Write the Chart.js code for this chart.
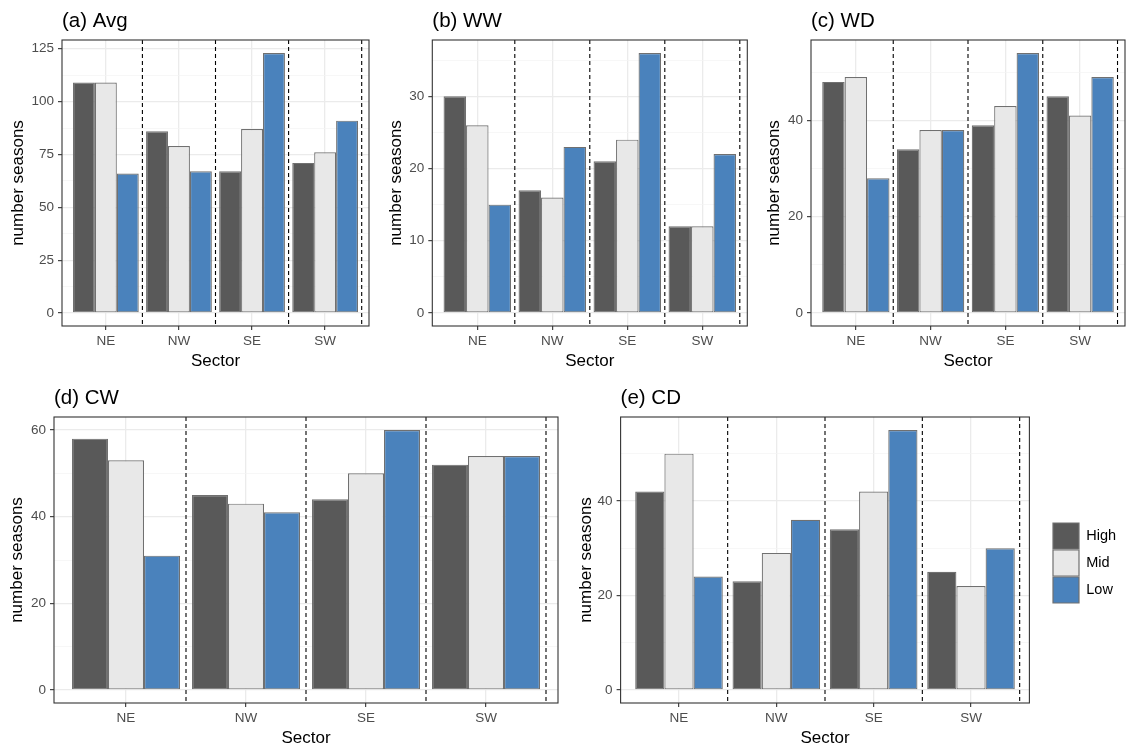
<!DOCTYPE html>
<html>
<head>
<meta charset="utf-8">
<script src="https://cdn.jsdelivr.net/npm/chart.js@4.4.1/dist/chart.umd.min.js"></script>
<style>
html,body{margin:0;padding:0;background:#fff;}
body{width:1126px;height:749px;overflow:hidden;position:relative;}
canvas{position:absolute;}
</style>
</head>
<body>
<script>
// ---------- data ----------
const sectors = ['NE', 'NW', 'SE', 'SW'];
const seriesNames = ['High', 'Mid', 'Low'];

const avgHigh = [109, 86, 67, 71];
const avgMid  = [109, 79, 87, 76];
const avgLow  = [66, 67, 123, 91];

const wwHigh = [30, 17, 21, 12];
const wwMid  = [26, 16, 24, 12];
const wwLow  = [15, 23, 36, 22];

const wdHigh = [48, 34, 39, 45];
const wdMid  = [49, 38, 43, 41];
const wdLow  = [28, 38, 54, 49];

const cwHigh = [58, 45, 44, 52];
const cwMid  = [53, 43, 50, 54];
const cwLow  = [31, 41, 60, 54];

const cdHigh = [42, 23, 34, 25];
const cdMid  = [50, 29, 42, 22];
const cdLow  = [24, 36, 55, 30];

const avgTicks = [0, 25, 50, 75, 100, 125];
const wwTicks  = [0, 10, 20, 30];
const wdTicks  = [0, 20, 40];
const cwTicks  = [0, 20, 40, 60];
const cdTicks  = [0, 20, 40];

const separators = [1.5, 2.5, 3.5, 4.5];

// ---------- styling / layout ----------
const FONT = '"Liberation Sans", Arial, sans-serif';
const fills = ['#595959', '#E8E8E8', '#4A82BC'];
const edge = '#707070';
const LEG_GAP = 22.6;
const LEG_W = 70;

const panels = [
  {title: '(a) Avg', series: [avgHigh, avgMid, avgLow], ticks: avgTicks, box: {L: 62, R: 369, T: 40, B: 326, ytc: 18.7}},
  {title: '(b) WW',  series: [wwHigh, wwMid, wwLow],    ticks: wwTicks,  box: {L: 432.3, R: 747.3, T: 40, B: 326, ytc: 396}},
  {title: '(c) WD',  series: [wdHigh, wdMid, wdLow],    ticks: wdTicks,  box: {L: 811, R: 1125, T: 40, B: 326, ytc: 774}},
  {title: '(d) CW',  series: [cwHigh, cwMid, cwLow],    ticks: cwTicks,  box: {L: 54, R: 558, T: 417, B: 703, ytc: 17.5}},
  {title: '(e) CD',  series: [cdHigh, cdMid, cdLow],    ticks: cdTicks,  box: {L: 620.6, R: 1029.4, T: 417, B: 703, ytc: 586}, legend: true}
];

const framePlugin = {
  id: 'frame',
  afterDatasetsDraw(chart) {
    const {ctx, chartArea: a, scales: {x}} = chart;
    ctx.save();
    ctx.strokeStyle = '#000';
    ctx.lineWidth = 1.1;
    ctx.setLineDash([4, 3]);
    separators.forEach(v => {
      const px = x.getPixelForValue(v);
      ctx.beginPath();
      ctx.moveTo(px, a.top);
      ctx.lineTo(px, a.bottom);
      ctx.stroke();
    });
    ctx.setLineDash([]);
    ctx.strokeStyle = '#333333';
    ctx.lineWidth = 1.1;
    ctx.strokeRect(a.left, a.top, a.right - a.left, a.bottom - a.top);
    ctx.restore();
  }
};

function makeChart(p) {
  const b = p.box;
  const cx = Math.round(b.ytc - 12.2);
  const cy = b.T - 40;
  const extra = p.legend ? LEG_GAP + LEG_W : 0;
  const rightEdge = b.R + extra;
  const cw = Math.ceil(rightEdge - cx + (p.legend ? 0 : 1.5));
  const padR = cw - (rightEdge - cx);
  const ch = b.B + 46 - cy;

  const canvas = document.createElement('canvas');
  canvas.width = cw; canvas.height = ch;
  canvas.style.left = cx + 'px'; canvas.style.top = cy + 'px';
  canvas.style.width = cw + 'px'; canvas.style.height = ch + 'px';
  document.body.appendChild(canvas);

  const dmax = Math.max(...p.series.flat());
  const ymin = -0.05 * dmax, ymax = 1.05 * dmax;
  const step = p.ticks[1] - p.ticks[0];
  const minor = [p.ticks[0] - step / 2, ...p.ticks.map(t => t + step / 2)].filter(v => v > ymin && v < ymax);
  const allY = [...p.ticks, ...minor].sort((m, n) => m - n);
  const isMajor = v => p.ticks.includes(v);
  const tickMajor = c => c && c.tick && isMajor(c.tick.value);

  const datasets = seriesNames.map((name, i) => ({
    label: name,
    data: sectors.map((s, j) => ({x: j + 1, y: p.series[i][j]})),
    backgroundColor: fills[i],
    borderColor: edge,
    borderWidth: 1.2,
    borderSkipped: false,
    categoryPercentage: 0.9,
    barPercentage: 1.0,
    xAxisID: 'x',
    yAxisID: 'y'
  }));

  const scales = {
    x: {
      type: 'linear', min: 0.4, max: 4.6, offset: false, position: 'bottom',
      afterBuildTicks: s => { s.ticks = sectors.map((_, j) => ({value: j + 1})); },
      afterFit: s => { s.height = 46; },
      grid: {offset: false, color: '#EBEBEB', lineWidth: 1.3, tickColor: '#333333', tickWidth: 1.1, tickLength: 4, drawTicks: true},
      border: {display: false},
      ticks: {autoSkip: false, maxRotation: 0, minRotation: 0, padding: 3, color: '#4D4D4D',
              font: {family: FONT, size: 13.5},
              callback: v => sectors[Math.round(v) - 1] || ''},
      title: {display: true, text: 'Sector', color: '#000', font: {family: FONT, size: 17}, padding: {top: 0, bottom: 0.8}}
    },
    y: {
      type: 'linear', min: ymin, max: ymax, position: 'left',
      afterBuildTicks: s => { s.ticks = allY.map(v => ({value: v})); },
      afterFit: s => { s.width = b.L - cx; },
      grid: {
        color: c => tickMajor(c) ? '#EBEBEB' : '#F4F4F4',
        lineWidth: c => tickMajor(c) ? 1.3 : 0.7,
        tickColor: c => tickMajor(c) ? '#333333' : 'rgba(0,0,0,0)',
        tickWidth: 1.1, tickLength: 4
      },
      border: {display: false},
      ticks: {autoSkip: false, padding: 4, color: '#4D4D4D', font: {family: FONT, size: 13.5},
              callback: v => isMajor(v) ? String(v) : ''},
      title: {display: true, text: 'number seasons', color: '#000', font: {family: FONT, size: 17},
              padding: {top: b.ytc - cx - 10.2, bottom: 0}}
    }
  };
  if (p.legend) {
    scales.gap = {
      type: 'linear', position: 'right', display: true,
      grid: {display: false, drawTicks: false}, border: {display: false},
      ticks: {display: false}, title: {display: false},
      afterFit: s => { s.width = LEG_GAP; }
    };
  }

  new Chart(canvas, {
    type: 'bar',
    data: {datasets},
    options: {
      responsive: false,
      maintainAspectRatio: false,
      animation: false,
      devicePixelRatio: 1,
      layout: {padding: {left: 0, top: 0, bottom: 0, right: padR}},
      scales,
      plugins: {
        tooltip: {enabled: false},
        title: {display: true, text: p.title, align: 'start', fullSize: false, color: '#000',
                font: {family: FONT, size: 20.5, weight: 'normal'}, padding: {top: 9.2, bottom: 6.2}},
        legend: {
          display: !!p.legend, position: 'right', align: 'center', maxWidth: LEG_W,
          labels: {boxWidth: 26, boxHeight: 26, padding: 1, color: '#000', font: {family: FONT, size: 14.5}}
        }
      }
    },
    plugins: [framePlugin]
  });
}

panels.forEach(makeChart);
</script>
</body>
</html>
